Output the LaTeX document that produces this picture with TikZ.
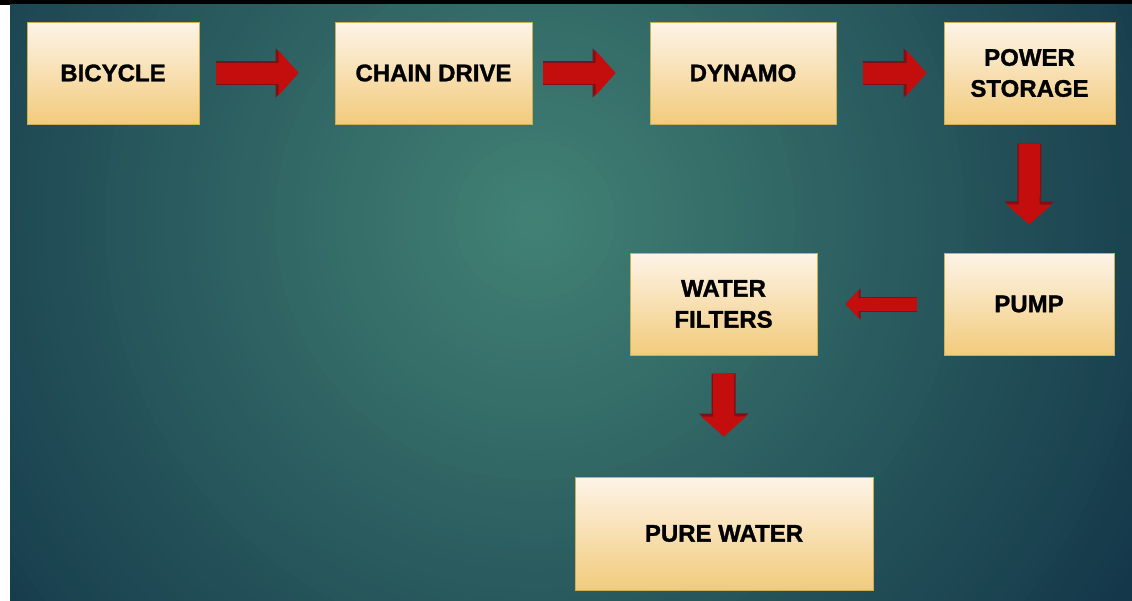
\documentclass[tikz,border=0pt]{standalone}
\usepackage{fontspec}
\setmainfont{Liberation Sans}[BoldFeatures={FakeBold=1.3}]
\usetikzlibrary{arrows.meta}

\definecolor{bgdark}{RGB}{20,56,74}
\definecolor{bglight}{RGB}{66,130,117}
\definecolor{boxtop}{RGB}{253,244,232}
\definecolor{boxbot}{RGB}{242,203,124}
\definecolor{boxline}{RGB}{206,176,84}
\definecolor{arrowred}{RGB}{196,14,14}
\definecolor{arrowedge}{RGB}{128,16,22}

\tikzset{
  stepbox/.style={draw=boxline, line width=1pt, top color=boxtop, bottom color=boxbot,
    minimum height=102pt, inner sep=0pt, align=center,
    font=\bfseries\fontsize{24}{31}\selectfont},
  flow/.style={arrowred, line width=21pt, -{Triangle[length=20pt,width=44pt]},
    preaction={draw=arrowedge, line width=24pt, -{Triangle[length=23pt,width=48pt]}}},
  smallflow/.style={arrowred, line width=13pt, -{Triangle[length=13pt,width=27pt]},
    preaction={draw=arrowedge, line width=15pt, -{Triangle[length=15pt,width=30pt]}}},
}

\begin{document}
\begin{tikzpicture}[x=1pt,y=-1pt]
    \useasboundingbox (0,0) rectangle (1132,600);
    % background
    \fill[white] (0,0) rectangle (10,600);
    \fill[black] (0,0) rectangle (1132,4.5);
    \begin{scope}
        \clip (10,4.5) rectangle (1133,601);
        \fill[bgdark] (10,4.5) rectangle (1133,601);
        \foreach \k in {0,...,70} {
            \pgfmathsetmacro\r{700-10*\k}
            \pgfmathsetmacro\p{100*(1-\r/700)}
            \fill[bglight!\p!bgdark] (535,220) circle (\r pt);
        }
    \end{scope}
    % top row
    \node[stepbox, minimum width=172pt] (bike) at (113,73) {BICYCLE};
    \node[stepbox, minimum width=197pt] (chain) at (433.5,73) {CHAIN DRIVE};
    \node[stepbox, minimum width=186pt] (dynamo) at (743,73) {DYNAMO};
    \node[stepbox, minimum width=171pt] (storage) at (1029.5,73) {POWER\\STORAGE};
    % middle row
    \node[stepbox, minimum width=170pt] (pump) at (1029,304) {PUMP};
    \node[stepbox, minimum width=187pt] (filters) at (723.5,304) {WATER\\FILTERS};
    % bottom
    \node[stepbox, minimum width=298pt, minimum height=113pt] (pure) at (724,533.5) {PURE WATER};
    % arrows
    \draw[flow, shorten <=16pt, shorten >=36pt] (bike) -- (chain);
    \draw[flow, shorten <=10pt, shorten >=34pt] (chain) -- (dynamo);
    \draw[flow, shorten <=26pt, shorten >=17pt] (dynamo) -- (storage);
    \draw[flow, shorten <=19pt, shorten >=28pt] (storage) -- (pump);
    \draw[smallflow, shorten <=27pt, shorten >=28pt] (pump) -- (filters);
    \draw[flow, shorten <=18pt, shorten >=40pt] (filters) -- (pure);
\end{tikzpicture}
\end{document}
